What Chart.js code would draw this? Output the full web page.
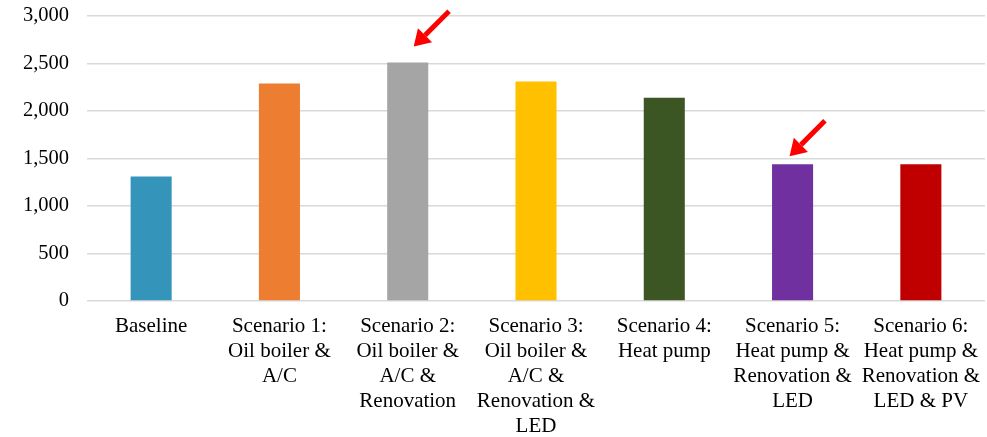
<!DOCTYPE html>
<html>
<head>
<meta charset="utf-8">
<script src="https://cdn.jsdelivr.net/npm/chart.js@4.4.1/dist/chart.umd.min.js"></script>
<style>
  html, body { margin: 0; padding: 0; background: #ffffff; }
  #wrap { position: relative; width: 987px; height: 437px; }
</style>
</head>
<body>
<div id="wrap"><canvas id="scenario-chart"></canvas></div>
<script>
'use strict';

// Chart data
const scenarioLabels = [
    ["Baseline"],
    ["Scenario 1:", "Oil boiler &", "A/C"],
    ["Scenario 2:", "Oil boiler &", "A/C &", "Renovation"],
    ["Scenario 3:", "Oil boiler &", "A/C &", "Renovation &", "LED"],
    ["Scenario 4:", "Heat pump"],
    ["Scenario 5:", "Heat pump &", "Renovation &", "LED"],
    ["Scenario 6:", "Heat pump &", "Renovation &", "LED & PV"],
];
const scenarioValues = [1310, 2290, 2510, 2310, 2140, 1440, 1440];
const scenarioColors = ["#3494ba", "#ed7d31", "#a5a5a5", "#ffc000", "#3b5623", "#7030a0", "#c00000"];
const yTicks = [0, 500, 1000, 1500, 2000, 2500, 3000];

// red arrows pointing at highlighted bars (offset of the tip from the bar top, px)
const highlightArrows = [
    {index: 2, dx: 6, dy: -16},
    {index: 5, dx: -3, dy: -8},
];

const arrowPlugin = {
    id: "arrows",
    afterDatasetsDraw(chart) {
        const ctx = chart.ctx;
        const bars = chart.getDatasetMeta(0).data;
        for (const arrow of highlightArrows) {
            const bar = bars[arrow.index];
            const tipX = bar.x + arrow.dx;
            const tipY = bar.y + arrow.dy;
            // direction from tip towards tail (up and to the right)
            const ux = Math.SQRT1_2, uy = -Math.SQRT1_2;
            const length = 50, headLen = 16, headHalf = 10;
            const baseX = tipX + ux * headLen;
            const baseY = tipY + uy * headLen;

            ctx.save();
            ctx.strokeStyle = "#ff0000";
            ctx.fillStyle = "#ff0000";
            ctx.lineWidth = 5;
            ctx.beginPath();
            ctx.moveTo(baseX, baseY);
            ctx.lineTo(tipX + ux * length, tipY + uy * length);
            ctx.stroke();

            ctx.beginPath();
            ctx.moveTo(tipX, tipY);
            ctx.lineTo(baseX - uy * headHalf, baseY + ux * headHalf);
            ctx.lineTo(baseX + uy * headHalf, baseY - ux * headHalf);
            ctx.closePath();
            ctx.fill();
            ctx.restore();
        }
    }
};

const fontFamily = "'Liberation Serif', 'Times New Roman', serif";

new Chart(document.querySelector("#scenario-chart"), {
    type: "bar",
    data: {
        labels: scenarioLabels,
        datasets: [
            {
                data: scenarioValues,
                backgroundColor: scenarioColors,
                barPercentage: 0.32,
                categoryPercentage: 1,
            },
        ],
    },
    options: {
        responsive: true,
        maintainAspectRatio: false,
        animation: false,
        layout: {
            padding: {top: 0, right: 2, bottom: 0, left: 0},
        },
        scales: {
            x: {
                grid: {display: false},
                border: {display: false},
                afterFit: axis => {
                    axis.height = 136;
                    axis.paddingRight = 0;
                },
                ticks: {
                    color: "#000000",
                    font: {family: fontFamily, size: 21, lineHeight: 1.19},
                    padding: 5,
                    maxRotation: 0,
                    autoSkip: false,
                },
            },
            y: {
                min: 0,
                max: 3000,
                afterBuildTicks: axis => {
                    axis.ticks = yTicks.map(value => ({value}));
                },
                afterFit: axis => {
                    axis.width = 87;
                    axis.paddingTop = 16;
                    axis.paddingBottom = 0;
                },
                grid: {
                    color: "#d9d9d9",
                    lineWidth: 1.5,
                    drawTicks: false,
                },
                border: {display: false},
                ticks: {
                    color: "#000000",
                    font: {family: fontFamily, size: 20.5, lineHeight: 1.0},
                    padding: 18,
                    callback: value => value.toLocaleString("en-US"),
                },
            },
        },
        plugins: {
            legend: {display: false},
            tooltip: {enabled: false},
        },
    },
    plugins: [arrowPlugin],
});
</script>
</body>
</html>
